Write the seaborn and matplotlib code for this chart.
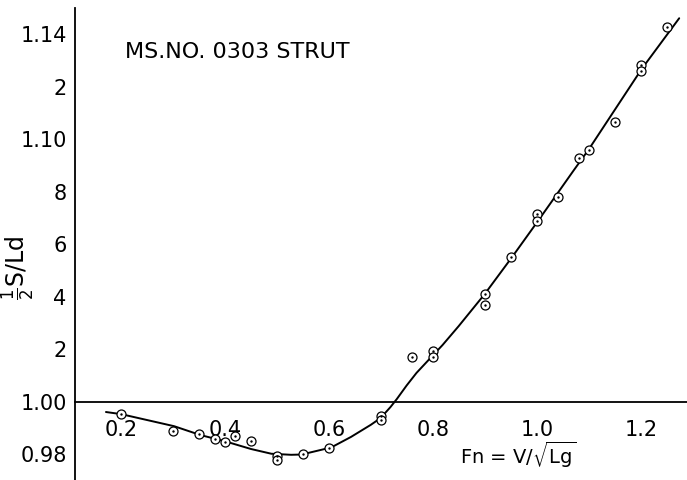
import matplotlib
matplotlib.use("Agg")
import matplotlib.pyplot as plt
import seaborn as sns
import pandas as pd

# Measured points (Fn, 1/2 S/Ld)
fn_pts = [0.20, 0.30, 0.35, 0.38, 0.40, 0.42, 0.45, 0.50, 0.50, 0.55, 0.60,
          0.70, 0.70, 0.76, 0.80, 0.80, 0.90, 0.90, 0.95, 1.00, 1.00, 1.04,
          1.08, 1.10, 1.15, 1.20, 1.20, 1.25]
s_pts = [0.9953, 0.9888, 0.9877, 0.9860, 0.9847, 0.9868, 0.9852, 0.9794, 0.9780,
         0.9801, 0.9824, 0.9945, 0.9932, 1.0171, 1.0193, 1.0169, 1.0409, 1.0367,
         1.0550, 1.0714, 1.0690, 1.0780, 1.0928, 1.0959, 1.1067, 1.1282, 1.1259,
         1.1427]

# Faired curve
fn_curve = [0.171, 0.200, 0.302, 0.353, 0.399, 0.450, 0.489, 0.527, 0.547, 0.604,
            0.642, 0.680, 0.699, 0.718, 0.730, 0.749, 0.768, 0.793, 0.818, 0.849,
            0.899, 0.952, 1.002, 1.070, 1.099, 1.201, 1.273]
s_curve = [0.9961, 0.9953, 0.9907, 0.9873, 0.9850, 0.9820, 0.9802, 0.9798, 0.9799,
           0.9826, 0.9866, 0.9912, 0.9938, 0.9980, 1.0010, 1.0062, 1.0110, 1.0163,
           1.0216, 1.0288, 1.0410, 1.0552, 1.0690, 1.0881, 1.0961, 1.1268, 1.1461]

x_ticks = [0.2, 0.3, 0.4, 0.5, 0.6, 0.7, 0.8, 0.9, 1.0, 1.1, 1.2]
x_ticklabels = ["0.2", "", "0.4", "", "0.6", "", "0.8", "", "1.0", "", "1.2"]
y_ticks = [0.98, 1.00, 1.02, 1.04, 1.06, 1.08, 1.10, 1.12, 1.14]
y_ticklabels = ["0.98", "1.00", "2", "4", "6", "8", "1.10", "2", "1.14"]

sns.set_style("white")
plt.rcParams['font.family'] = ['DejaVu Sans']
plt.rcParams['mathtext.fontset'] = 'dejavusans'
plt.rcParams['text.color'] = 'black'

fig = plt.figure(figsize=(6.87, 4.80), dpi=100)
ax = fig.add_axes([75 / 687, 0.0, 1 - 75 / 687, 1 - 8 / 480])

pts = pd.DataFrame({"Fn": fn_pts, "S": s_pts})
curve = pd.DataFrame({"Fn": fn_curve, "S": s_curve})

sns.lineplot(data=curve, x="Fn", y="S", sort=False, color="black", lw=1.4, ax=ax)
sns.scatterplot(data=pts, x="Fn", y="S", marker="o", s=42, facecolor="white",
                edgecolor="black", linewidth=0.9, ax=ax, zorder=3)
sns.scatterplot(data=pts, x="Fn", y="S", marker="o", s=3, color="black",
                linewidth=0, ax=ax, zorder=4)

ax.set_xlim(0.1115, 1.288)
ax.set_ylim(0.9702, 1.150)

for s in ["top", "right"]:
    ax.spines[s].set_visible(False)
ax.spines["bottom"].set_position(("data", 1.0))
ax.spines["bottom"].set_linewidth(1.3)
ax.spines["left"].set_linewidth(1.3)
ax.spines["bottom"].set_color("black")
ax.spines["left"].set_color("black")

ax.set_xticks(x_ticks)
ax.set_xticklabels(x_ticklabels)
ax.set_yticks(y_ticks)
ax.set_yticklabels(y_ticklabels)
ax.tick_params(axis="x", direction="inout", length=12, width=1.2, pad=7,
               labelsize=15, colors="black")
ax.tick_params(axis="y", direction="out", length=4, width=1.2, pad=2,
               labelsize=15, colors="black")
ax.set_xlabel("")
ax.set_ylabel("")

fig.text(18 / 687, 1 - 268 / 480, r"$\frac{1}{2}$S/Ld", rotation=90,
         ha="center", va="center", fontsize=17)
fig.text(125 / 687, 1 - 52 / 480, "MS.NO. 0303 STRUT", ha="left", va="center",
         fontsize=16)
fig.text(518 / 687, 1 - 455 / 480, r"Fn = V/$\sqrt{\mathregular{Lg}}$",
         ha="center", va="center", fontsize=14)

fig.savefig("out.png", dpi=100, facecolor="white")
